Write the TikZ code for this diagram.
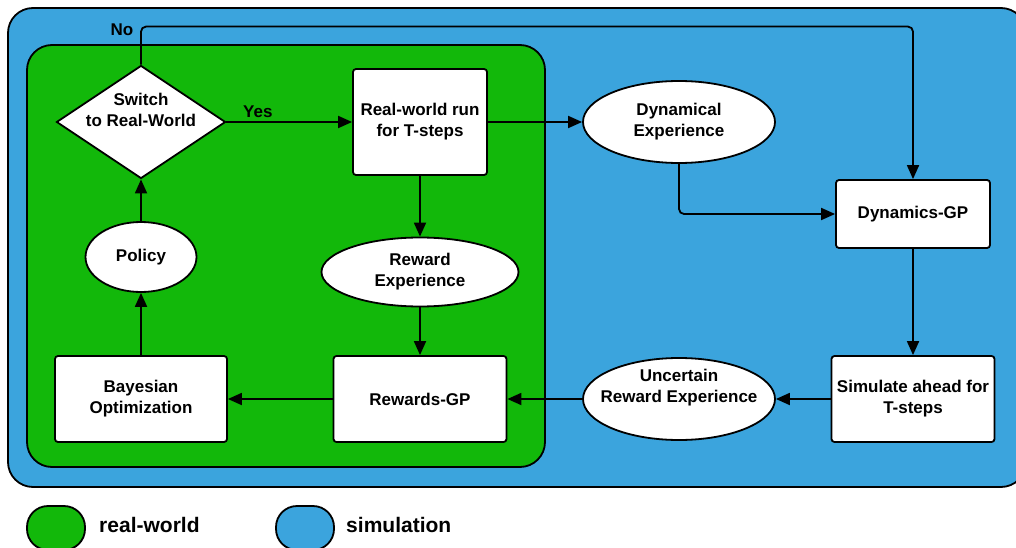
\documentclass[tikz,border=0pt]{standalone}
\usepackage{fontspec}
\setmainfont{Liberation Sans}
\usetikzlibrary{shapes.geometric,arrows.meta}
\definecolor{realgreen}{RGB}{18,184,10}
\definecolor{simblue}{RGB}{59,164,221}

\begin{document}
\begin{tikzpicture}[x=1pt,y=-1pt,line width=1.8pt,
	every node/.style={font=\fontsize{17}{21}\selectfont\bfseries,align=center},
	box/.style={draw,fill=white,rounded corners=3pt,inner sep=0pt},
	oval/.style={draw,fill=white,ellipse,inner sep=0pt},
	decision/.style={draw,fill=white,diamond,inner sep=0pt},
	keybox/.style={draw,rounded corners=21pt,minimum width=58pt,minimum height=44pt},
	keytext/.style={anchor=west,font=\fontsize{21}{25}\selectfont\bfseries},
	arr/.style={-{Triangle[length=14pt,width=12pt]}}]
			\useasboundingbox (0,0) rectangle (1016,548);
			\clip (0,0) rectangle (1016,548);
			\filldraw[fill=simblue,rounded corners=25pt] (8,8) rectangle (1026,487);
			\filldraw[fill=realgreen,rounded corners=25pt] (27,45) rectangle (545,467);

			\node[decision,minimum width=169pt,minimum height=113pt,label={[yshift=12pt]center:Switch\\to Real-World}] (switch) at (141,122) {};
			\node[box,minimum width=134pt,minimum height=106pt] (run) at (420,122) {Real-world run\\for T-steps};
			\node[oval,minimum width=192pt,minimum height=82pt,label={center:Dynamical\\Experience}] (dynexp) at (679,122) {};
			\node[box,minimum width=154pt,minimum height=68pt] (dyngp) at (913,214) {Dynamics-GP};
			\node[box,minimum width=163pt,minimum height=86pt] (sim) at (913,399) {Simulate ahead for\\T-steps};
			\node[oval,minimum width=192pt,minimum height=82pt,label={[yshift=11pt]center:Uncertain\\Reward Experience}] (uncexp) at (679,399) {};
			\node[box,minimum width=173pt,minimum height=86pt] (rewgp) at (420,399) {Rewards-GP};
			\node[oval,minimum width=197pt,minimum height=69pt,label={center:Reward\\Experience}] (rewexp) at (420,272) {};
			\node[box,minimum width=172pt,minimum height=86pt] (bayes) at (141,399) {Bayesian\\Optimization};
			\node[oval,minimum width=111pt,minimum height=70pt] (policy) at (141,257) {Policy};
			\node (no) at (122,30) {No};

			\draw[arr,rounded corners=5pt] (switch.north) -- ++(0,-38) -| (dyngp.north);
			\draw[arr] (switch) -- node[pos=0.25,above] (yes) {Yes} (run);
			\draw[arr] (run) -- (dynexp);
			\draw[arr] (run) -- (rewexp);
			\draw[arr,rounded corners=5pt] (dynexp.south) |- (dyngp.west);
			\draw[arr] (dyngp) -- (sim);
			\draw[arr] (sim) -- (uncexp);
			\draw[arr] (uncexp) -- (rewgp);
			\draw[arr] (rewexp) -- (rewgp);
			\draw[arr] (rewgp) -- (bayes);
			\draw[arr] (bayes) -- (policy);
			\draw[arr] (policy) -- (switch);

			\node[keybox,fill=realgreen] (keyreal) at (56,528) {};
			\node[keytext] (keyrealtext) at (95,525) {real-world};
			\node[keybox,fill=simblue] (keysim) at (305,528) {};
			\node[keytext] (keysimtext) at (342,525) {simulation};
		\end{tikzpicture}
\end{document}
